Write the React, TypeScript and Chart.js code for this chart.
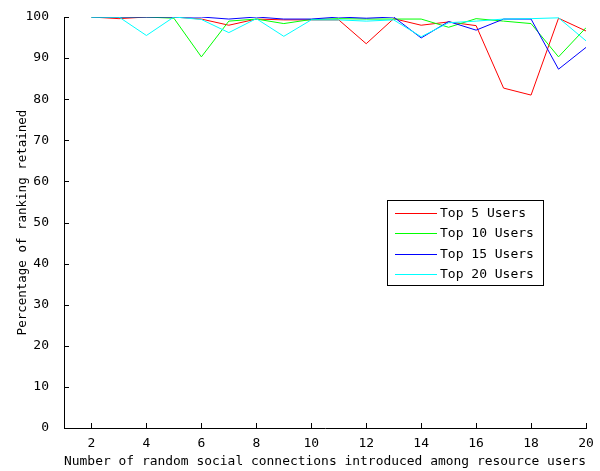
import { useEffect, useRef } from "react";
import { Chart, registerables } from "chart.js";

Chart.register(...registerables);

const xValues = [2, 3, 4, 5, 6, 7, 8, 9, 10, 11, 12, 13, 14, 15, 16, 17, 18, 19, 20];
const top5 = [100, 99.6, 100, 100, 99.5, 98.0, 99.5, 99.3, 99.3, 99.3, 93.5, 99.6, 98.0, 98.8, 97.9, 82.7, 81.0, 99.7, 96.6];
const top10 = [100, 100, 100, 99.7, 90.3, 99.0, 99.5, 98.4, 99.4, 99.6, 99.5, 99.5, 99.5, 97.5, 99.6, 99.0, 98.4, 90.3, 97.4];
const top15 = [100, 100, 100, 100, 100, 99.5, 100, 99.5, 99.5, 100, 99.7, 100, 94.9, 98.9, 96.8, 99.5, 99.5, 87.3, 92.6];
const top20 = [100, 100, 95.5, 100, 99.4, 96.2, 99.6, 95.3, 99.3, 99.3, 99.0, 99.3, 95.2, 98.6, 99.0, 99.5, 99.6, 99.8, 94.2];

const seriesLabels = ["Top 5 Users", "Top 10 Users", "Top 15 Users", "Top 20 Users"];
const seriesColors = ["#ff0000", "#00ff00", "#0000ff", "#00ffff"];
const seriesValues = [top5, top10, top15, top20];

const xTickValues = [2, 4, 6, 8, 10, 12, 14, 16, 18, 20];
const yTickValues = [0, 10, 20, 30, 40, 50, 60, 70, 80, 90, 100];
const xTitle = "Number of random social connections introduced among resource users";
const yTitle = "Percentage of ranking retained";

const FONT = "'DejaVu Sans Mono', monospace";

const matlabPlugin = {
  id: "matlabDecor",
  afterDraw(chart: any) {
    const ctx = chart.ctx;
    const { left, bottom } = chart.chartArea;
    const xs = chart.scales.x;
    const ys = chart.scales.y;
    ctx.save();
    ctx.strokeStyle = "#000";
    ctx.lineWidth = 1;
    ctx.beginPath();
    xTickValues.forEach((v) => {
      const px = Math.round(xs.getPixelForValue(v)) + 0.5;
      ctx.moveTo(px, bottom);
      ctx.lineTo(px, bottom - 5);
    });
    yTickValues.forEach((v) => {
      const py = Math.round(ys.getPixelForValue(v)) + 0.5;
      ctx.moveTo(left, py);
      ctx.lineTo(left + 5, py);
    });
    ctx.stroke();

    // legend box
    const bx = 387.5, by = 200.5, bw = 156, bh = 85;
    ctx.fillStyle = "#fff";
    ctx.fillRect(bx, by, bw, bh);
    ctx.strokeStyle = "#000";
    ctx.strokeRect(bx, by, bw, bh);
    ctx.font = `13px ${FONT}`;
    ctx.textBaseline = "middle";
    ctx.textAlign = "left";
    seriesLabels.forEach((lab, i) => {
      const y = 212.5 + i * 20.5;
      ctx.strokeStyle = seriesColors[i];
      ctx.beginPath();
      ctx.moveTo(395, Math.round(y) + 0.5);
      ctx.lineTo(437, Math.round(y) + 0.5);
      ctx.stroke();
      ctx.fillStyle = "#000";
      ctx.fillText(lab, 440, y + 1);
    });
    ctx.restore();
  },
};

export default function App() {
  const ref = useRef<HTMLCanvasElement | null>(null);
  useEffect(() => {
    if (!ref.current) return;
    const chart = new Chart(ref.current, {
      type: "line",
      data: {
        datasets: seriesValues.map((vals, i) => ({
          label: seriesLabels[i],
          data: vals.map((v, j) => ({ x: xValues[j], y: v })),
          borderColor: seriesColors[i],
          backgroundColor: seriesColors[i],
          borderWidth: 1,
          pointRadius: 0,
          tension: 0,
          fill: false,
          order: 3 - i,
        })),
      },
      options: {
        animation: false,
        responsive: true,
        maintainAspectRatio: false,
        layout: { padding: { top: 17, right: 14, left: 0, bottom: 0 } },
        plugins: { legend: { display: false }, tooltip: { enabled: false } },
        scales: {
          x: {
            type: "linear",
            min: 1,
            max: 20,
            grid: { display: false },
            border: { display: true, color: "#000", width: 1 },
            afterBuildTicks: (s: any) => {
              s.ticks = xTickValues.map((v) => ({ value: v }));
            },
            afterFit: (s: any) => {
              s.height = 43;
            },
            ticks: {
              color: "#000",
              font: { family: FONT, size: 13 },
              padding: 0,
              maxRotation: 0,
              autoSkip: false,
            },
            title: {
              display: true,
              text: xTitle,
              color: "#000",
              font: { family: FONT, size: 13 },
              padding: { top: 0, bottom: 2 },
            },
          },
          y: {
            type: "linear",
            min: 0,
            max: 100,
            grid: { display: false },
            border: { display: true, color: "#000", width: 1 },
            afterBuildTicks: (s: any) => {
              s.ticks = yTickValues.map((v) => ({ value: v }));
            },
            afterFit: (s: any) => {
              s.width = 64;
            },
            ticks: {
              color: "#000",
              font: { family: FONT, size: 13 },
              padding: 7,
              autoSkip: false,
            },
            title: {
              display: true,
              text: yTitle,
              color: "#000",
              font: { family: FONT, size: 12.5 },
              padding: { top: 15, bottom: 0 },
            },
          },
        },
      },
      plugins: [matlabPlugin],
    });
    return () => chart.destroy();
  }, []);
  return (
    <div style={{ position: "fixed", left: 0, top: 0, width: 600, height: 471, background: "#fff" }}>
      <canvas ref={ref} />
    </div>
  );
}
